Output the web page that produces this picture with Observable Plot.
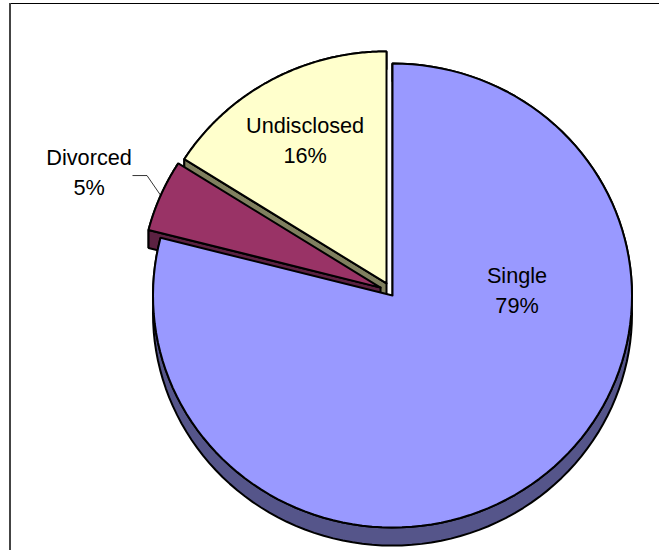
<!DOCTYPE html>
<html>
<head>
<meta charset="utf-8">
<script src="https://cdn.jsdelivr.net/npm/d3@7"></script>
<script src="https://cdn.jsdelivr.net/npm/@observablehq/plot@0.6"></script>
<style>
  html, body { margin: 0; padding: 0; background: #fff; overflow: hidden; }
  #chart { position: relative; width: 659px; height: 550px; }
  #chart svg { display: block; position: absolute; left: 0; top: 0; background: transparent; }
  #frameTop { position: absolute; left: 9px; top: 3px; right: 0; height: 1px; background: #000; }
  #frameLeft { position: absolute; left: 9px; top: 3px; bottom: 0; width: 2px; background: #444; }
</style>
</head>
<body>
<div id="chart"><div id="frameTop"></div><div id="frameLeft"></div></div>
<script>
const categories = ["Single", "Divorced", "Undisclosed"];
const percents = [79, 5, 16];

// Layout, in pie units (radius = 1)
const tops = ["#9999ff", "#993366", "#ffffcc"];
const walls = ["#55558a", "#5c2142", "#80805f"];
const explode = [[0, 0], [-0.05, -0.034], [-0.025, -0.052]];
const labelAt = [[0.52, -0.03], [-1.267, -0.539], [-0.365, -0.677]];
const depth = 0.078;
const drawOrder = [2, 1, 0];

const total = d3.sum(percents);
const cum = d3.cumsum(percents);
const angle = (p) => (p / total) * 2 * Math.PI;

const paths = [];
function ring(id, fill, pts) {
  const closed = [...pts, pts[0]];
  closed.forEach(([x, y]) => paths.push({ id, fill, x, y }));
}
drawOrder.forEach((i) => {
  const a0 = angle(i ? cum[i - 1] : 0);
  const a1 = angle(cum[i]);
  const [ox, oy] = explode[i];
  const apex = [ox, oy];
  const arc = d3.range(0, 121).map((k) => {
    const a = a0 + ((a1 - a0) * k) / 120;
    return [ox + Math.sin(a), oy - Math.cos(a)];
  });
  const down = ([x, y]) => [x, y + depth];
  ring(`${i}-arcwall`, walls[i], [...arc, ...arc.map(down).reverse()]);
  ring(`${i}-sidewall`, walls[i], [apex, arc[0], down(arc[0]), down(apex)]);
  ring(`${i}-top`, tops[i], [apex, ...arc]);
});

const labels = categories.map((c, i) => ({
  text: `${c}\n${percents[i]}%`,
  x: labelAt[i][0],
  y: labelAt[i][1]
}));

// Leader line from the middle of the Divorced arc to its label
const divMid = angle(cum[0] + percents[1] / 2);
const leader = [
  [explode[1][0] + Math.sin(divMid), explode[1][1] - Math.cos(divMid)],
  [-1.025, -0.517],
  [-1.084, -0.517]
].map(([x, y]) => ({ x, y }));

const order = [...new Set(paths.map((d) => d.id))];
const marks = order.map((id) =>
  Plot.line(paths.filter((d) => d.id === id), {
    x: "x",
    y: "y",
    fill: paths.find((d) => d.id === id).fill,
    stroke: "#000",
    strokeWidth: 2,
    strokeLinejoin: "miter"
  })
);

const plot = Plot.plot({
  width: 659,
  height: 550,
  margin: 0,
  x: { domain: [-1, 1], range: [152.5, 631.5], axis: null },
  y: { domain: [-1, 1], range: [63, 527], axis: null },
  marks: [
    ...marks,
    Plot.line(leader, { x: "x", y: "y", stroke: "#000", strokeWidth: 0.8 }),
    Plot.text(labels, {
      x: "x",
      y: "y",
      text: "text",
      fontSize: 21.7,
      lineHeight: 1.38,
      fontFamily: "Liberation Sans, Arial, sans-serif",
      fill: "#000"
    })
  ]
});
document.getElementById("chart").appendChild(plot);
</script>
</body>
</html>
